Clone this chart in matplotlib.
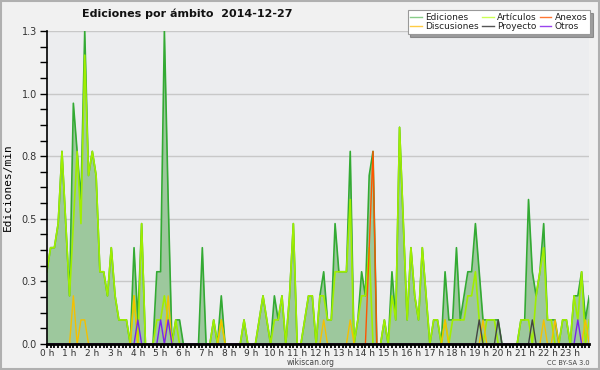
import matplotlib
matplotlib.use("Agg")
import matplotlib.pyplot as plt
from matplotlib.lines import Line2D
from matplotlib.patches import Rectangle
import numpy as np

# edits per minute, one value per 10-minute slot (6 per hour, 0h .. 23h50)
ediciones = [
    0.3, 0.4, 0.4, 0.5, 0.8, 0.5,   # 0 h
    0.2, 1.0, 0.8, 0.6, 1.3, 0.7,   # 1 h
    0.8, 0.7, 0.3, 0.3, 0.2, 0.4,   # 2 h
    0.2, 0.1, 0.1, 0.1, 0.0, 0.4,   # 3 h
    0.1, 0.5, 0.0, 0.0, 0.0, 0.3,   # 4 h
    0.3, 1.3, 0.6, 0.0, 0.1, 0.1,   # 5 h
    0.0, 0.0, 0.0, 0.0, 0.0, 0.4,   # 6 h
    0.0, 0.0, 0.1, 0.0, 0.2, 0.0,   # 7 h
    0.0, 0.0, 0.0, 0.0, 0.1, 0.0,   # 8 h
    0.0, 0.0, 0.1, 0.2, 0.1, 0.0,   # 9 h
    0.2, 0.1, 0.2, 0.0, 0.2, 0.5,   # 10 h
    0.0, 0.0, 0.1, 0.2, 0.2, 0.0,   # 11 h
    0.2, 0.3, 0.1, 0.1, 0.5, 0.3,   # 12 h
    0.3, 0.3, 0.8, 0.0, 0.1, 0.3,   # 13 h
    0.2, 0.7, 0.8, 0.0, 0.0, 0.1,   # 14 h
    0.0, 0.3, 0.1, 0.9, 0.5, 0.1,   # 15 h
    0.4, 0.2, 0.1, 0.4, 0.2, 0.0,   # 16 h
    0.1, 0.1, 0.0, 0.3, 0.1, 0.1,   # 17 h
    0.4, 0.1, 0.2, 0.3, 0.3, 0.5,   # 18 h
    0.3, 0.1, 0.1, 0.1, 0.1, 0.1,   # 19 h
    0.0, 0.0, 0.0, 0.0, 0.0, 0.1,   # 20 h
    0.1, 0.6, 0.3, 0.2, 0.3, 0.5,   # 21 h
    0.1, 0.1, 0.1, 0.0, 0.1, 0.1,   # 22 h
    0.0, 0.2, 0.2, 0.3, 0.1, 0.2,   # 23 h
]

articulos = [
    0.3, 0.4, 0.4, 0.5, 0.8, 0.5,
    0.2, 0.5, 0.8, 0.5, 1.2, 0.7,
    0.8, 0.7, 0.3, 0.3, 0.2, 0.4,
    0.2, 0.1, 0.1, 0.1, 0.0, 0.2,
    0.0, 0.5, 0.0, 0.0, 0.0, 0.1,
    0.1, 0.2, 0.1, 0.0, 0.1, 0.0,
    0.0, 0.0, 0.0, 0.0, 0.0, 0.0,
    0.0, 0.0, 0.1, 0.0, 0.1, 0.0,
    0.0, 0.0, 0.0, 0.0, 0.1, 0.0,
    0.0, 0.0, 0.1, 0.2, 0.1, 0.0,
    0.1, 0.1, 0.2, 0.0, 0.2, 0.5,
    0.0, 0.0, 0.1, 0.2, 0.2, 0.0,
    0.2, 0.2, 0.1, 0.1, 0.3, 0.3,
    0.3, 0.3, 0.6, 0.0, 0.1, 0.2,
    0.2, 0.4, 0.0, 0.0, 0.0, 0.1,
    0.0, 0.2, 0.1, 0.9, 0.5, 0.1,
    0.4, 0.2, 0.1, 0.4, 0.2, 0.0,
    0.1, 0.1, 0.0, 0.1, 0.0, 0.1,
    0.1, 0.1, 0.1, 0.2, 0.2, 0.3,
    0.1, 0.0, 0.1, 0.1, 0.1, 0.0,
    0.0, 0.0, 0.0, 0.0, 0.0, 0.1,
    0.1, 0.1, 0.0, 0.2, 0.3, 0.4,
    0.1, 0.1, 0.0, 0.0, 0.1, 0.1,
    0.0, 0.2, 0.1, 0.3, 0.0, 0.1,
]

# sparse series: (slot, edits/min), every other slot is 0
discusiones = [(7, 0.2), (9, 0.1), (10, 0.1), (23, 0.2), (32, 0.2), (46, 0.1),
               (73, 0.1), (80, 0.1), (105, 0.1), (115, 0.1), (131, 0.1),
               (134, 0.1), (142, 0.1)]
anexos = [(85, 0.4), (86, 0.8)]
proyecto = [(114, 0.1), (119, 0.1), (128, 0.1)]
otros = [(24, 0.1), (30, 0.1), (32, 0.1), (140, 0.1)]

hour_labels = ["%d h" % h for h in range(24)]
ytick_vals = [0, 0.26, 0.52, 0.78, 1.04, 1.3]
ytick_labels = ["0.0", "0.3", "0.5", "0.8", "1.0", "1.3"]

n = len(ediciones)
x = np.arange(n) / 6.0


def spread(pairs):
    arr = np.zeros(n)
    for i, v in pairs:
        arr[i] = v
    return arr


fig = plt.figure(figsize=(6, 3.7), dpi=100, facecolor="#f1f1f1")
ax = fig.add_axes([0.078, 0.0703, 0.904, 0.8459])
ax.set_facecolor("#ecedef")

ax.fill_between(x, ediciones, color="#9dc89d", lw=0, zorder=1)
ax.plot(x, ediciones, color="#33aa33", lw=1.2, zorder=2)
ax.plot(x, articulos, color="#a0ee00", lw=1.2, zorder=3)
ax.plot(x, spread(discusiones), color="#f5c000", lw=1.0, zorder=4)
ax.plot(x, spread(anexos), color="#ff5500", lw=1.0, zorder=4)
ax.plot(x, spread(proyecto), color="#444444", lw=1.0, zorder=4)
ax.plot(x, spread(otros), color="#7a22ee", lw=1.0, zorder=4)

ax.set_xlim(0, x[-1])
ax.set_ylim(0, 1.3)

ax.set_yticks(ytick_vals)
ax.set_yticklabels(ytick_labels)
ax.set_yticks(np.arange(0, 1.3, 0.065), minor=True)
ax.set_xticks(np.arange(24))
ax.set_xticklabels(hour_labels)
ax.set_xticks(np.arange(0, x[-1] + 0.01, 1 / 6.0), minor=True)

ax.grid(axis="y", color="#c8c8c8", lw=1.0)
ax.set_axisbelow(True)
ax.tick_params(axis="y", which="both", direction="out", length=5, width=1,
               labelsize=7, labelcolor="#333333", pad=2)
ax.tick_params(axis="x", which="both", direction="out", length=3, width=1.3,
               labelsize=6.5, labelcolor="#333333", pad=0.5)
for s in ["top", "right"]:
    ax.spines[s].set_visible(False)
ax.spines["left"].set_linewidth(1.2)
ax.spines["bottom"].set_linewidth(2)
ax.spines["left"].set_zorder(6)
ax.spines["bottom"].set_zorder(6)

ax.set_ylabel("Ediciones/min", family="DejaVu Sans Mono", fontsize=8, labelpad=6)

fig.text(0.312, 0.962, u"Ediciones por \u00e1mbito  2014-12-27", ha="center",
         va="center", fontsize=8, fontweight="bold", color="#111111")
fig.text(0.517, 0.019, "wikiscan.org", ha="center", va="center", fontsize=5.5,
         color="#444444")
fig.text(0.983, 0.019, "CC BY-SA 3.0", ha="right", va="center", fontsize=4.8,
         color="#444444")

handles = [
    Line2D([], [], color="#88cc88", lw=1),
    Line2D([], [], color="#ffcc44", lw=1),
    Line2D([], [], color="#ccff55", lw=1),
    Line2D([], [], color="#555555", lw=1),
    Line2D([], [], color="#ff7733", lw=1),
    Line2D([], [], color="#9944ee", lw=1),
]
labels = ["Ediciones", "Discusiones", u"Art\u00edculos", "Proyecto", "Anexos", "Otros"]
leg = fig.legend(handles, labels, ncol=3, loc="upper right",
                 bbox_to_anchor=(0.983, 0.973), fontsize=6.5, frameon=True,
                 fancybox=False, shadow=True, handlelength=1.3, handletextpad=0.35,
                 columnspacing=0.35, labelspacing=0.05, borderpad=0.3,
                 borderaxespad=0)
leg.get_frame().set_edgecolor("#999999")
leg.get_frame().set_linewidth(0.8)
for t in leg.get_texts():
    t.set_color("#222222")

fig.patches.append(Rectangle((0.002, 0.003), 0.996, 0.994, transform=fig.transFigure,
                             fill=False, edgecolor="#b0b0b0", lw=1.5))

fig.savefig("out.png", dpi=100, facecolor=fig.get_facecolor())
